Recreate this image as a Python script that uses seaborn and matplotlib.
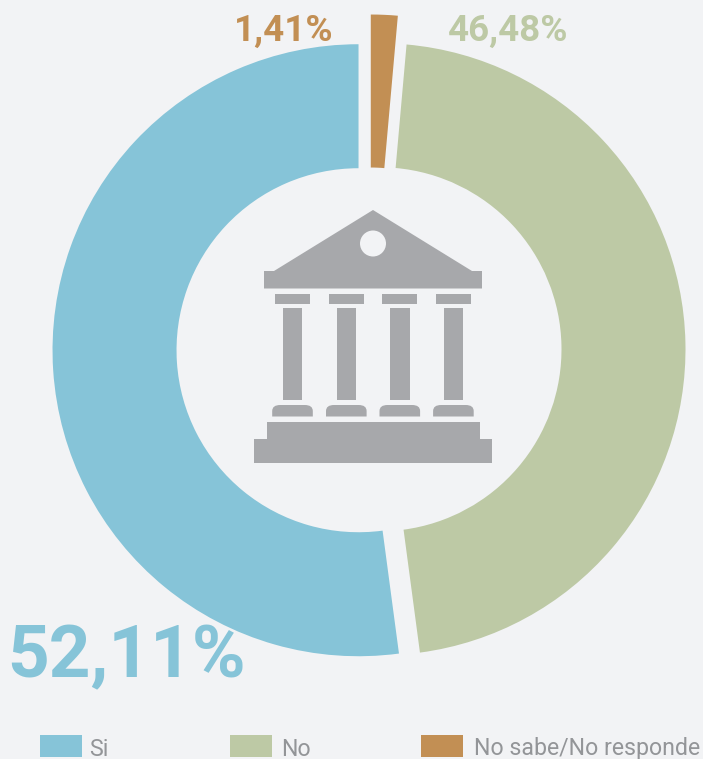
# -*- coding: utf-8 -*-
# Donut chart with the building icon in the middle
import matplotlib
matplotlib.use('Agg')
import matplotlib.pyplot as plt
import seaborn as sns
from matplotlib.patches import Circle, PathPatch, Polygon, Rectangle
from matplotlib.path import Path

# Data
categories = ['Si', 'No', 'No sabe/No responde']
values = [52.11, 46.48, 1.41]
colors = ['#86C4D8', '#BDC9A5', '#C28F54']

BG = '#F2F3F5'
GREY = '#A7A8AB'
W, H = 703, 759

sns.set_theme(style='white')
plt.rcParams['font.family'] = ['Roboto', 'DejaVu Sans']

fig = plt.figure(figsize=(W / 100, H / 100), dpi=100, facecolor=BG)
ax = fig.add_axes([0, 0, 1, 1])


def Y(y):  # picture rows run downwards, the axes run upwards
    return H - y


def box(x0, x1, y0, y1):
    ax.add_patch(Rectangle((x0, Y(y1)), x1 - x0, y1 - y0, fc=GREY, ec='none', zorder=3))


# Donut
wedges, _ = ax.pie(values, colors=sns.color_palette(colors), startangle=90, counterclock=True,
                   explode=[11, 10, 29], center=(369.5, Y(349.5)), radius=306,
                   wedgeprops={'width': 124, 'linewidth': 0})
wedges[2].set_width(153)  # the small slice reaches down to the inner ring
ax.set_xlim(0, W)
ax.set_ylim(0, H)
ax.set_aspect('equal')
ax.axis('off')

# Icon: roof
ax.add_patch(Polygon([(373, Y(210)), (472, Y(271)), (482, Y(271)), (482, Y(288.5)),
                      (264, Y(288.5)), (264, Y(271)), (274, Y(271))],
                     fc=GREY, ec='none', zorder=3))
ax.add_patch(Circle((373, Y(243.5)), 13, fc=BG, ec='none', zorder=4))

# Icon: columns
for x in [292.5, 346.3, 399.8, 453.4]:
    box(x - 17.5, x + 17.5, 293.5, 304)
    box(x - 9.7, x + 9.7, 308, 399.5)
    x0, x1 = x - 20.3, x + 20.3
    y0, y1 = Y(416.5), Y(405)
    verts = [(x0, y0), (x0, y1 - 6), (x0, y1), (x0 + 8, y1), (x1 - 8, y1),
             (x1, y1), (x1, y1 - 6), (x1, y0), (x0, y0)]
    codes = [Path.MOVETO, Path.LINETO, Path.CURVE3, Path.CURVE3, Path.LINETO,
             Path.CURVE3, Path.CURVE3, Path.LINETO, Path.CLOSEPOLY]
    ax.add_patch(PathPatch(Path(verts, codes), fc=GREY, ec='none', zorder=3))

# Icon: steps
box(266.5, 479.5, 422, 439.5)
box(254, 492, 439, 462.5)

# Percentage labels
labels = [f'{v:.2f}%'.replace('.', ',') for v in values]
ax.text(7, Y(677), labels[0], color=colors[0], fontsize=52.5, fontweight='bold',
        va='baseline', ha='left', zorder=5)
ax.text(448, Y(40.5), labels[1], color=colors[1], fontsize=26.5, fontweight='bold',
        va='baseline', ha='left', zorder=5)
ax.text(233.5, Y(40.5), labels[2], color=colors[2], fontsize=26.5, fontweight='bold',
        va='baseline', ha='left', zorder=5)

# Legend
for name, col, sx, tx in zip(categories, colors, [40, 230, 421], [89.5, 281, 474]):
    ax.add_patch(Rectangle((sx, Y(757)), 42, 22, fc=col, ec='none'))
    ax.text(tx, Y(755.5), name, color='#939598', fontsize=16.7, va='baseline', ha='left')

fig.savefig('out.png', dpi=100, facecolor=BG)
